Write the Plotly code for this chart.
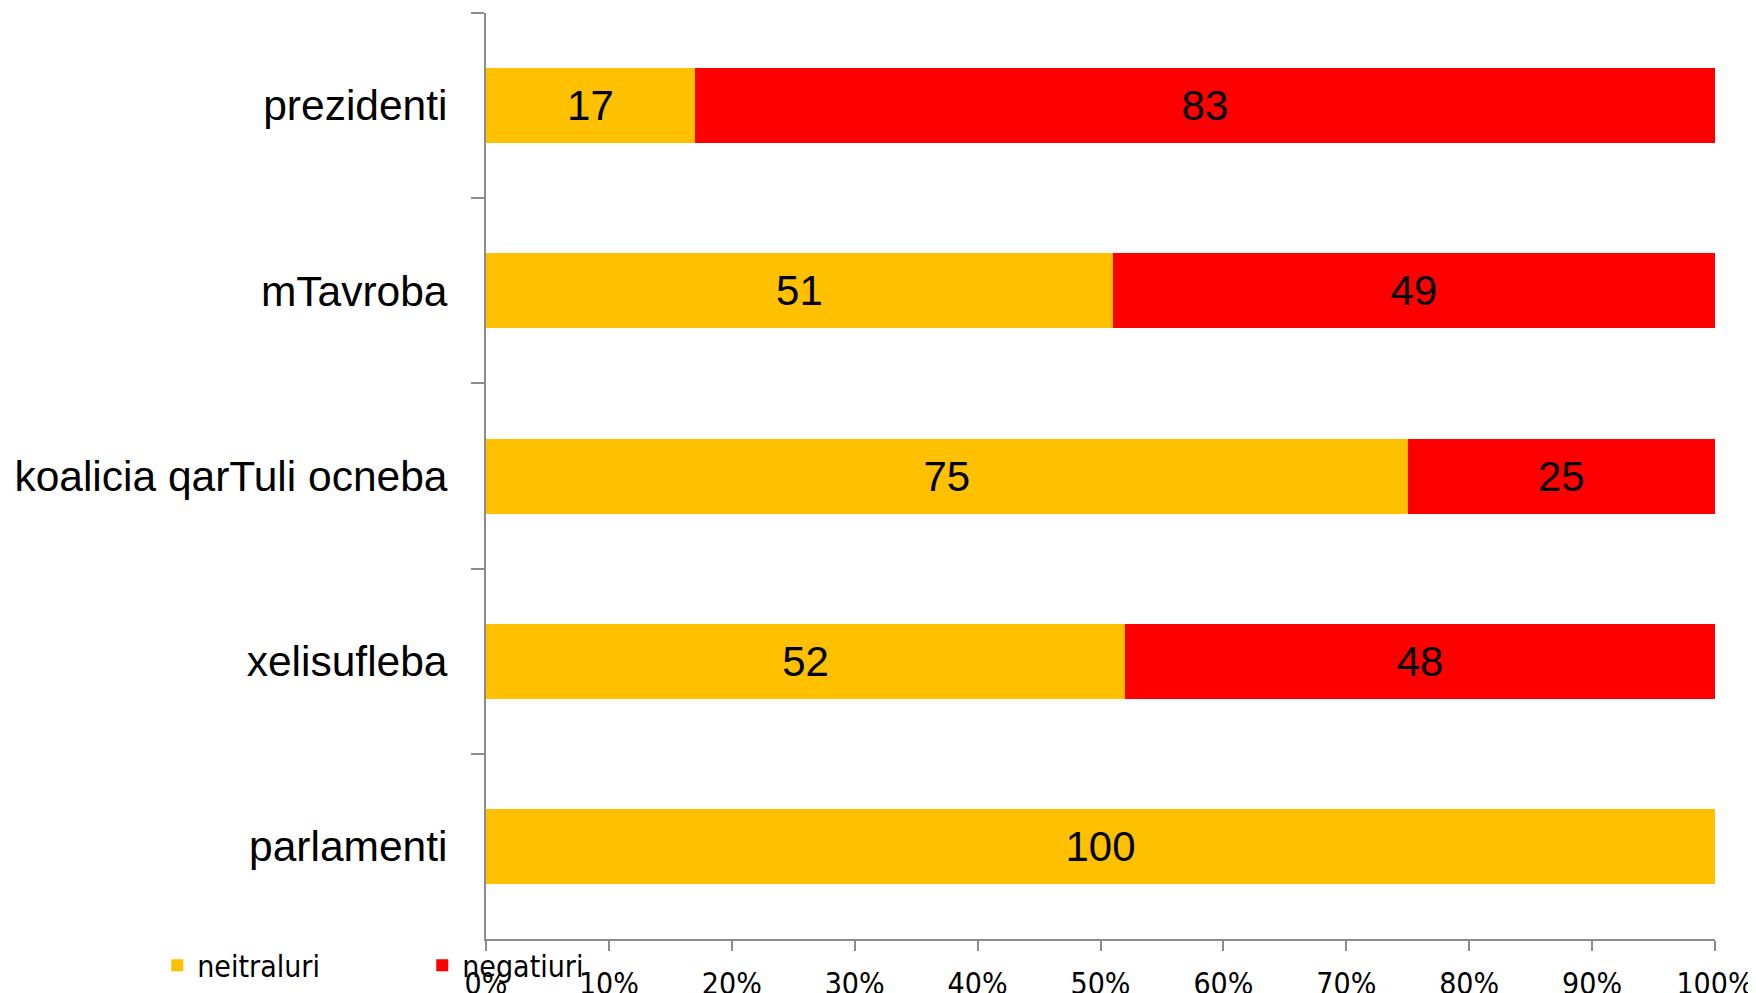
import plotly.graph_objects as go

categories = ['prezidenti', 'mTavroba', 'koalicia qarTuli ocneba', 'xelisufleba', 'parlamenti']
neitraluri = [17, 51, 75, 52, 100]
negatiuri = [83, 49, 25, 48, 0]
x_ticks = [0, 10, 20, 30, 40, 50, 60, 70, 80, 90, 100]
x_tick_labels = [f'{v}%' for v in x_ticks]

narrow = 'Liberation Sans Narrow, Arial Narrow, DejaVu Sans Condensed, sans-serif'
axis_grey = '#8c8c8c'

fig = go.Figure()
fig.add_trace(go.Bar(
    y=categories, x=neitraluri, name='neitraluri', orientation='h',
    marker=dict(color='#FFC000', line=dict(width=0)),
    text=[str(v) if v else '' for v in neitraluri],
    textposition='inside', insidetextanchor='middle', textangle=0,
    textfont=dict(family='Liberation Sans, Arial', size=42, color='black'),
))
fig.add_trace(go.Bar(
    y=categories, x=negatiuri, name='negatiuri', orientation='h',
    marker=dict(color='#FF0000', line=dict(width=0)),
    text=[str(v) if v else '' for v in negatiuri],
    textposition='inside', insidetextanchor='middle', textangle=0,
    textfont=dict(family='Liberation Sans, Arial', size=42, color='black'),
))

# the page body adds an 8px offset, margins account for it
fig.update_layout(
    width=1756, height=993,
    barmode='stack', bargap=0.595,
    plot_bgcolor='white', paper_bgcolor='white',
    margin=dict(l=478, r=49, t=5, b=62, autoexpand=False),
    legend=dict(
        orientation='h', traceorder='normal',
        xref='container', yref='container',
        x=0.085, y=0.036, xanchor='left', yanchor='middle',
        entrywidth=220, entrywidthmode='pixels',
        font=dict(family=narrow, size=30, color='black'),
        itemclick=False, bgcolor='rgba(0,0,0,0)',
    ),
)
fig.update_xaxes(
    range=[0, 100], tickvals=x_ticks, ticktext=x_tick_labels,
    showgrid=False, zeroline=False, automargin=False,
    showline=True, linecolor=axis_grey, linewidth=2,
    ticks='outside', ticklen=10, tickcolor=axis_grey, tickwidth=2,
    ticklabelstandoff=7,
    tickfont=dict(family=narrow, size=30, color='black'),
)
fig.update_yaxes(
    categoryorder='array', categoryarray=categories, autorange='reversed',
    showgrid=False, zeroline=False, automargin=False,
    showline=True, linecolor=axis_grey, linewidth=2,
    ticks='outside', tickson='boundaries', ticklen=13, tickcolor=axis_grey, tickwidth=2,
    ticklabelstandoff=28,
    tickfont=dict(family='Liberation Sans, Arial', size=42.5, color='black'),
)

fig.write_html('out.html')
